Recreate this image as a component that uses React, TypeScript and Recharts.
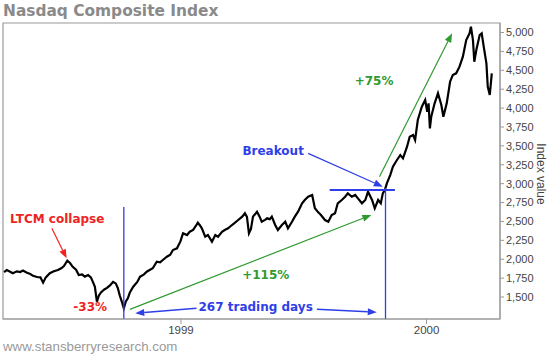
import React from 'react'
import {
  LineChart, Line, XAxis, YAxis, ReferenceLine, ReferenceDot, ReferenceArea,
} from 'recharts'

// Nasdaq Composite, Apr 1998 - Apr 2000
const dates = [
  '1998-04-13', '1998-04-17', '1998-04-22', '1998-04-26', '1998-05-02', '1998-05-07', '1998-05-11',
  '1998-05-17', '1998-05-22', '1998-05-26', '1998-06-01', '1998-06-06', '1998-06-10', '1998-06-14',
  '1998-06-20', '1998-06-26', '1998-07-02', '1998-07-07', '1998-07-11', '1998-07-16', '1998-07-20',
  '1998-07-24', '1998-07-29', '1998-08-02', '1998-08-07', '1998-08-11', '1998-08-16', '1998-08-20',
  '1998-08-23', '1998-08-26', '1998-08-29', '1998-09-01', '1998-09-04', '1998-09-09', '1998-09-13',
  '1998-09-17', '1998-09-22', '1998-09-26', '1998-09-29', '1998-10-02', '1998-10-05', '1998-10-08',
  '1998-10-11', '1998-10-14', '1998-10-17', '1998-10-22', '1998-10-28', '1998-11-01', '1998-11-07',
  '1998-11-11', '1998-11-16', '1998-11-20', '1998-11-26', '1998-12-01', '1998-12-05', '1998-12-11',
  '1998-12-16', '1998-12-20', '1998-12-26', '1998-12-31', '1999-01-04', '1999-01-10', '1999-01-14',
  '1999-01-19', '1999-01-23', '1999-01-26', '1999-01-29', '1999-02-01', '1999-02-06', '1999-02-10',
  '1999-02-16', '1999-02-21', '1999-02-25', '1999-03-03', '1999-03-07', '1999-03-12', '1999-03-16',
  '1999-03-21', '1999-03-27', '1999-04-02', '1999-04-06', '1999-04-09', '1999-04-12', '1999-04-15',
  '1999-04-18', '1999-04-24', '1999-04-28', '1999-05-01', '1999-05-06', '1999-05-09', '1999-05-13',
  '1999-05-16', '1999-05-21', '1999-05-25', '1999-05-31', '1999-06-05', '1999-06-09', '1999-06-15',
  '1999-06-19', '1999-06-24', '1999-06-30', '1999-07-04', '1999-07-09', '1999-07-15', '1999-07-19',
  '1999-07-24', '1999-07-28', '1999-08-03', '1999-08-08', '1999-08-13', '1999-08-18', '1999-08-22',
  '1999-08-28', '1999-09-02', '1999-09-06', '1999-09-12', '1999-09-17', '1999-09-21', '1999-09-27',
  '1999-10-02', '1999-10-06', '1999-10-12', '1999-10-16', '1999-10-21', '1999-10-25', '1999-10-28',
  '1999-10-31', '1999-11-03', '1999-11-08', '1999-11-12', '1999-11-18', '1999-11-23', '1999-11-27',
  '1999-12-03', '1999-12-07', '1999-12-12', '1999-12-15', '1999-12-19', '1999-12-25', '1999-12-30',
  '2000-01-02', '2000-01-04', '2000-01-06', '2000-01-08', '2000-01-13', '2000-01-18', '2000-01-23',
  '2000-01-26', '2000-01-31', '2000-02-05', '2000-02-09', '2000-02-14', '2000-02-19', '2000-02-24',
  '2000-02-29', '2000-03-05', '2000-03-07', '2000-03-10', '2000-03-12', '2000-03-15', '2000-03-20',
  '2000-03-23', '2000-03-26', '2000-03-30', '2000-04-01', '2000-04-04', '2000-04-07',
]

const closes = [
  1830, 1857, 1835, 1814, 1840, 1831, 1850,
  1820, 1804, 1780, 1765, 1760, 1690, 1760,
  1814, 1840, 1857, 1880, 1910, 1980, 1950,
  1900, 1860, 1790, 1800, 1770, 1790, 1760,
  1700, 1636, 1440, 1520, 1560, 1600, 1620,
  1650, 1700, 1680, 1620, 1520, 1440, 1350,
  1440, 1483, 1560, 1636, 1700, 1769, 1800,
  1835, 1860, 1880, 1967, 1960, 1990, 2033,
  2060, 2122, 2144, 2232, 2343, 2320, 2364,
  2387, 2440, 2483, 2450, 2409, 2298, 2320,
  2232, 2320, 2298, 2364, 2387, 2409, 2440,
  2475, 2519, 2563, 2608, 2560, 2343, 2400,
  2563, 2629, 2560, 2496, 2520, 2541, 2530,
  2563, 2453, 2387, 2453, 2496, 2409, 2496,
  2560, 2630, 2740, 2784, 2827, 2850, 2674,
  2620, 2585, 2519, 2496, 2585, 2608, 2740,
  2784, 2827, 2872, 2827, 2850, 2806, 2740,
  2784, 2894, 2784, 2674, 2784, 2740, 2872,
  2916, 3004, 3114, 3224, 3313, 3379, 3335,
  3489, 3621, 3644, 3578, 3842, 4018, 4107,
  3952, 4063, 3732, 3886, 4063, 4196, 4041,
  3886, 4063, 4349, 4438, 4460, 4548, 4680,
  4901, 4990, 5077, 4901, 4614, 4769, 4967,
  4990, 4813, 4592, 4283, 4173, 4460,
]

const yTicks = [1500, 1750, 2000, 2250, 2500, 2750, 3000, 3250, 3500, 3750, 4000, 4250, 4500, 4750, 5000]
const yearStarts = ['1999-01-01', '2000-01-01']
const yearLabels = ['1999', '2000']

const DAY0 = Date.parse('1999-01-01')
const toDay = (s: string) => (Date.parse(s) - DAY0) / 86400000

const data = dates.map((d, i) => ({ t: toDay(d), close: closes[i] }))
const xTicks = yearStarts.map(toDay)

const X_DOMAIN: [number, number] = [-264.6, 474.2]
const Y_DOMAIN: [number, number] = [1209, 5126]

const BLUE = '#2f3fe6'
const GREEN = '#2f9a2f'
const RED = '#ee2424'
const ANNO_FONT = '"DejaVu Sans", Verdana, sans-serif'

function arrow(color: string, width = 1.2, head = true) {
  return (p: any) => {
    const { x1, y1, x2, y2 } = p
    const ang = Math.atan2(y2 - y1, x2 - x1)
    const len = 9
    const half = 3.5
    const bx = x2 - len * Math.cos(ang)
    const by = y2 - len * Math.sin(ang)
    const nx = -Math.sin(ang) * half
    const ny = Math.cos(ang) * half
    return (
      <g>
        <line x1={x1} y1={y1} x2={head ? bx : x2} y2={head ? by : y2} stroke={color} strokeWidth={width} />
        {head && (
          <polygon points={`${x2},${y2} ${bx + nx},${by + ny} ${bx - nx},${by - ny}`} fill={color} />
        )}
      </g>
    )
  }
}

function label(text: string, color: string, size = 12) {
  return (p: any) => (
    <text
      x={p.cx}
      y={p.cy}
      textAnchor="middle"
      dominantBaseline="central"
      fill={color}
      fontFamily={ANNO_FONT}
      fontWeight="bold"
      fontSize={size}
    >
      {text}
    </text>
  )
}

export default function App() {
  return (
    <div style={{ position: 'absolute', left: 0, top: 0, width: 550, height: 357, background: '#fff' }}>
      <div
        style={{
          position: 'absolute', left: 3, top: 2, fontFamily: ANNO_FONT, fontWeight: 'bold',
          fontSize: 15.4, color: '#8a8a8a', whiteSpace: 'nowrap',
        }}
      >
        Nasdaq Composite Index
      </div>
      <div
        style={{
          position: 'absolute', left: 3, top: 339, fontFamily: '"Liberation Sans", Arial, sans-serif',
          fontSize: 13.3, color: '#9a9a9a', whiteSpace: 'nowrap',
        }}
      >
        www.stansberryresearch.com
      </div>
      <LineChart
        width={550}
        height={357}
        data={data}
        margin={{ top: 23, right: 0, bottom: 0, left: 3 }}
        style={{ position: 'absolute', left: 0, top: 0 }}
      >
        <XAxis
          dataKey="t"
          type="number"
          domain={X_DOMAIN}
          allowDataOverflow
          ticks={xTicks}
          tickFormatter={(v: number) => yearLabels[xTicks.indexOf(v)] ?? ''}
          height={38}
          tickSize={5}
          axisLine={{ stroke: '#999' }}
          tickLine={{ stroke: '#999' }}
          tick={{ fontSize: 11.5, fill: '#444', fontFamily: '"Liberation Sans", Arial, sans-serif' }}
        />
        <YAxis
          orientation="right"
          type="number"
          domain={Y_DOMAIN}
          allowDataOverflow
          ticks={yTicks}
          tickFormatter={(v: number) => v.toLocaleString('en-US')}
          width={50}
          tickSize={4}
          axisLine={{ stroke: '#999' }}
          tickLine={{ stroke: '#999' }}
          tick={{ fontSize: 11, fill: '#444', fontFamily: '"Liberation Sans", Arial, sans-serif' }}
          label={{
            content: ({ viewBox }: any) => {
              const cx = viewBox.x + viewBox.width - 9
              const cy = 174
              return (
                <text
                  x={cx}
                  y={cy}
                  transform={`rotate(90 ${cx} ${cy})`}
                  textAnchor="middle"
                  dominantBaseline="central"
                  fontSize={12}
                  fill="#444"
                  fontFamily='"Liberation Sans", Arial, sans-serif'
                >
                  Index value
                </text>
              )
            },
          }}
        />
        <ReferenceArea
          x1={X_DOMAIN[0]}
          x2={X_DOMAIN[1]}
          y1={Y_DOMAIN[0]}
          y2={Y_DOMAIN[1]}
          fill="none"
          stroke="#999"
          strokeWidth={1.2}
        />
        <Line
          type="linear"
          dataKey="close"
          stroke="#000"
          strokeWidth={2.2}
          dot={false}
          isAnimationActive={false}
        />

        {/* Oct 8 1998 low and Nov 1 1999 breakout verticals */}
        <ReferenceLine
          segment={[{ x: toDay('1998-10-08'), y: 2691 }, { x: toDay('1998-10-08'), y: Y_DOMAIN[0] }]}
          shape={arrow(BLUE, 1.3, false)}
        />
        <ReferenceLine
          segment={[{ x: toDay('1999-11-01'), y: 2942 }, { x: toDay('1999-11-01'), y: Y_DOMAIN[0] }]}
          shape={arrow(BLUE, 1.3, false)}
        />
        <ReferenceLine
          segment={[{ x: toDay('1999-08-10'), y: 2916 }, { x: toDay('1999-11-15'), y: 2916 }]}
          shape={arrow(BLUE, 2.2, false)}
        />

        <ReferenceLine
          segment={[{ x: toDay('1999-07-09'), y: 3401 }, { x: toDay('1999-10-28'), y: 2960 }]}
          shape={arrow(BLUE)}
        />
        <ReferenceLine
          segment={[{ x: toDay('1999-10-23'), y: 3092 }, { x: toDay('2000-02-08'), y: 4990 }]}
          shape={arrow(GREEN)}
        />
        <ReferenceLine
          segment={[{ x: toDay('1998-10-17'), y: 1337 }, { x: toDay('1999-10-11'), y: 2585 }]}
          shape={arrow(GREEN)}
        />
        <ReferenceLine
          segment={[{ x: toDay('1998-06-23'), y: 2409 }, { x: toDay('1998-07-15'), y: 2012 }]}
          shape={arrow(RED)}
        />
        <ReferenceLine
          segment={[{ x: toDay('1999-01-24'), y: 1350 }, { x: toDay('1998-10-25'), y: 1284 }]}
          shape={arrow(BLUE, 1.5)}
        />
        <ReferenceLine
          segment={[{ x: toDay('1999-07-22'), y: 1337 }, { x: toDay('1999-10-19'), y: 1298 }]}
          shape={arrow(BLUE, 1.5)}
        />

        <ReferenceDot x={toDay('1999-05-18')} y={3432} r={0} shape={label('Breakout', BLUE)} />
        <ReferenceDot x={toDay('1999-10-15')} y={4362} r={0} shape={label('+75%', GREEN)} />
        <ReferenceDot x={toDay('1999-05-07')} y={1791} r={0} shape={label('+115%', GREEN)} />
        <ReferenceDot x={toDay('1998-07-01')} y={2528} r={0} shape={label('LTCM collapse', RED)} />
        <ReferenceDot x={toDay('1998-08-19')} y={1364} r={0} shape={label('-33%', RED)} />
        <ReferenceDot x={toDay('1999-04-22')} y={1368} r={0} shape={label('267 trading days', BLUE)} />
      </LineChart>
    </div>
  )
}
